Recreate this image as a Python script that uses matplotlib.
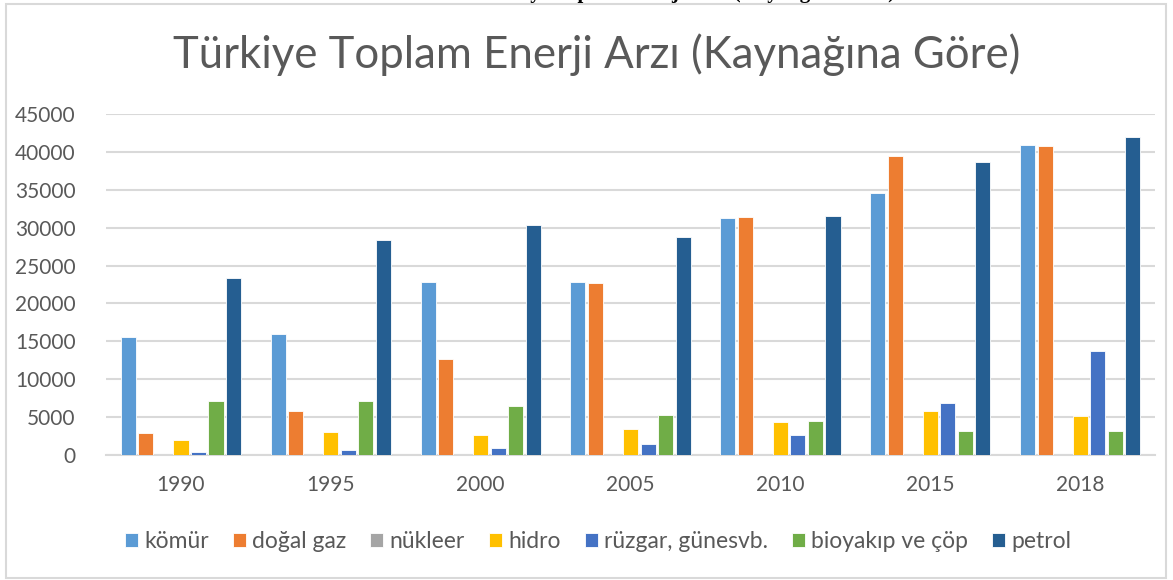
import numpy as np
import matplotlib.pyplot as plt
from matplotlib.patches import Rectangle

plt.rcParams['font.family'] = ['Lato', 'DejaVu Sans']

# ----------------------------
# Data
# ----------------------------
years = ["1990", "1995", "2000", "2005", "2010", "2015", "2018"]
komur = [15600, 16000, 22800, 22800, 31200, 34500, 40900]
dogal_gaz = [2900, 5800, 12700, 22750, 31400, 39400, 40800]
nukleer = [0, 0, 0, 0, 0, 0, 0]
hidro = [2000, 3050, 2650, 3400, 4450, 5800, 5200]
ruzgar_gunes = [480, 700, 1000, 1500, 2700, 6900, 13800]
bioyakit = [7200, 7100, 6550, 5350, 4550, 3250, 3250]
petrol = [23400, 28400, 30400, 28750, 31500, 38700, 41900]

series = [
    ("kömür", komur, "#5B9BD5"),
    ("doğal gaz", dogal_gaz, "#ED7D31"),
    ("nükleer", nukleer, "#A5A5A5"),
    ("hidro", hidro, "#FFC000"),
    ("rüzgar, günesvb.", ruzgar_gunes, "#4472C4"),
    ("bioyakıp ve çöp", bioyakit, "#70AD47"),
    ("petrol", petrol, "#255E91"),
]

TEXT_GRAY = "#595959"
GRID_GRAY = "#D9D9D9"

fig = plt.figure(figsize=(11.73, 5.80), dpi=100)
ax = fig.add_axes([0.0904, 0.215, 0.8943, 0.589])

x = np.arange(len(years))
slot = 0.117
for i, (name, vals, col) in enumerate(series):
    offs = (i - 3) * slot
    ax.bar(x + offs, vals, width=slot * 0.86, color=col, edgecolor="white",
           linewidth=0.6, label=name, zorder=3)

ax.set_xlim(-0.5, len(years) - 0.5)
ax.set_ylim(0, 45000)
ax.set_yticks(np.arange(0, 45001, 5000))
ax.set_xticks(x)
ax.set_xticklabels(years)
ax.grid(True, axis="y", color=GRID_GRAY, linewidth=1.5, zorder=0)
for s in ["top", "right", "left"]:
    ax.spines[s].set_visible(False)
ax.spines["bottom"].set_color(GRID_GRAY)
ax.spines["bottom"].set_linewidth(1.5)
ax.tick_params(axis="both", length=0, labelsize=15, labelcolor=TEXT_GRAY)
ax.tick_params(axis="y", pad=22)
ax.tick_params(axis="x", pad=14)

fig.text(0.509, 0.905, "Türkiye Toplam Enerji Arzı (Kaynağına Göre)", ha="center",
         va="center", fontsize=31.5, color=TEXT_GRAY)

# caption cut off at the top of the screenshot
fig.text(0.585, 1.004, "Türkiye Toplam Enerji Arzı (Kaynağına Göre)", ha="center",
         va="baseline", fontsize=15, fontweight="bold", family="Liberation Serif",
         color="black")

leg = fig.legend(loc="center", bbox_to_anchor=(0.51, 0.066), ncol=7, frameon=False,
                 fontsize=16.5, handlelength=0.57, handleheight=0.57, handletextpad=0.27,
                 columnspacing=1.05, labelcolor=TEXT_GRAY)

# chart border
fig.patches.append(Rectangle((0.005, 0.003), 0.989, 0.99, transform=fig.transFigure,
                             fill=False, edgecolor=GRID_GRAY, linewidth=1.5))

fig.savefig("out.png", dpi=100)
